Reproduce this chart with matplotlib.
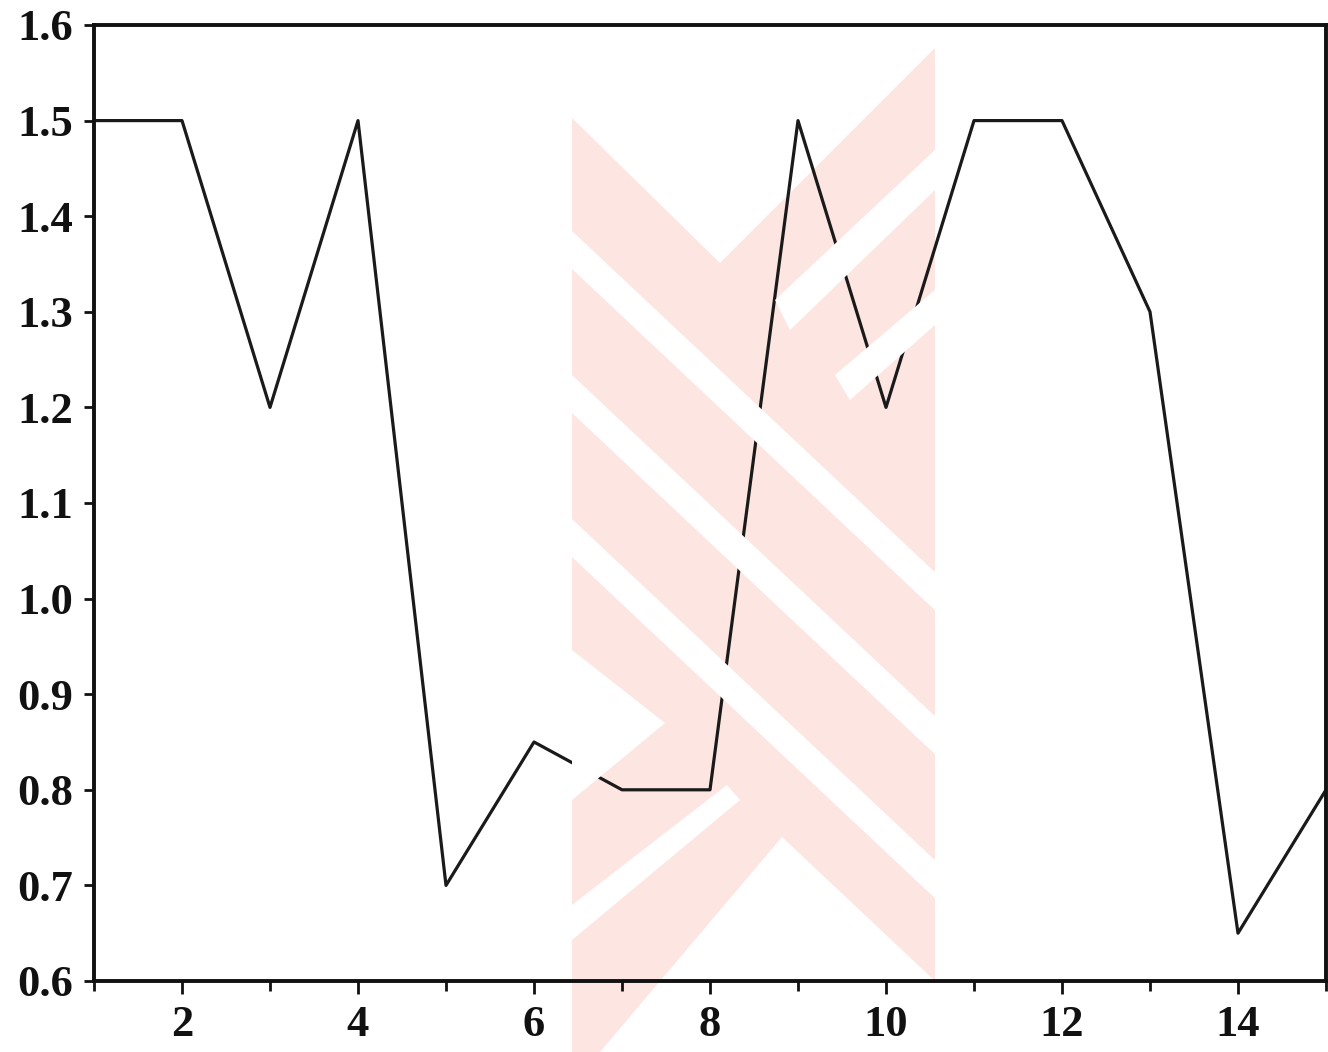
import matplotlib
matplotlib.use("Agg")
import matplotlib.pyplot as plt
from matplotlib.patches import Polygon
from matplotlib.ticker import MultipleLocator, FormatStrFormatter

# values
x_vals = [1, 2, 3, 4, 5, 6, 7, 8, 9, 10, 11, 12, 13, 14, 15]
y_vals = [1.5, 1.5, 1.2, 1.5, 0.7, 0.85, 0.8, 0.8, 1.5, 1.2, 1.5, 1.5, 1.3, 0.65, 0.8]
x_major = [2, 4, 6, 8, 10, 12, 14]
y_ticks = [0.6, 0.7, 0.8, 0.9, 1.0, 1.1, 1.2, 1.3, 1.4, 1.5, 1.6]

W, H = 1328, 1052
fig = plt.figure(figsize=(W / 100, H / 100), dpi=100)


def px(points):
    # image pixel coords (y down) -> figure fraction
    return [(x / W, 1 - y / H) for x, y in points]


# faint pink watermark from the scan, drawn behind the axes
pink = "#fde6e2"
fig.add_artist(Polygon(px([(572, 118), (720, 263), (935, 48), (935, 981),
                           (782, 837), (600, 1052), (572, 1052)]),
                       closed=True, fc=pink, ec="none", zorder=0))
slope = 0.94
for y0 in [250, 394, 538]:
    h = 19
    fig.add_artist(Polygon(px([(572, y0 - h), (935, y0 - h + 363 * slope),
                               (935, y0 + h + 363 * slope), (572, y0 + h)]),
                           closed=True, fc="white", ec="none", zorder=0.5))
# "/" cuts on the upper right and lower left
for pts in [[(775, 300), (935, 150), (935, 190), (790, 330)],
            [(835, 375), (935, 290), (935, 325), (850, 400)],
            [(572, 905), (727, 785), (740, 800), (572, 940)],
            [(572, 650), (665, 723), (572, 800)]]:
    fig.add_artist(Polygon(px(pts), closed=True, fc="white", ec="none", zorder=0.5))

ax = fig.add_axes([94 / W, 1 - 981 / H, (1326 - 94) / W, (981 - 25) / H])
ax.patch.set_alpha(0)
ax.plot(x_vals, y_vals, color="#1a1a1a", linewidth=2.3)

ax.set_xlim(1, 15)
ax.set_ylim(0.6, 1.6)
ax.set_xticks(x_major)
ax.xaxis.set_minor_locator(MultipleLocator(1))
ax.set_yticks(y_ticks)
ax.yaxis.set_major_formatter(FormatStrFormatter("%.1f"))

for s in ax.spines.values():
    s.set_linewidth(2.8)
    s.set_color("#111111")

font = {"family": "Liberation Serif", "weight": "bold", "size": 32}
ax.tick_params(axis="both", which="both", direction="out", width=2, color="#111111")
ax.tick_params(axis="x", which="major", length=9, pad=8)
ax.tick_params(axis="x", which="minor", length=7)
ax.tick_params(axis="y", which="major", length=7, pad=8)
for lab in ax.get_xticklabels() + ax.get_yticklabels():
    lab.set_fontproperties(font)
    lab.set_color("#111111")

fig.savefig("out.png", dpi=100)
